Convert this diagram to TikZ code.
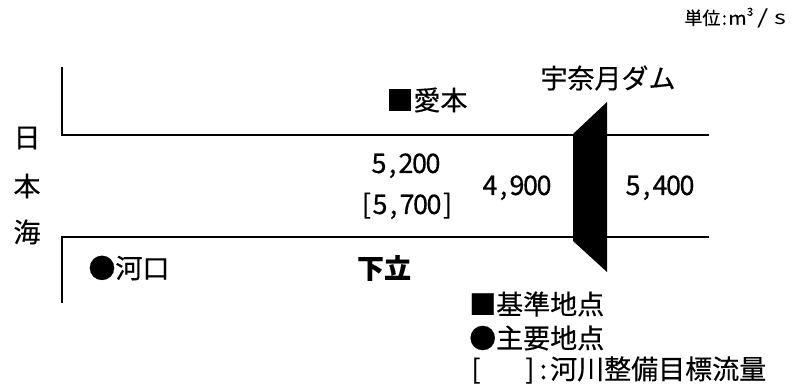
\documentclass[tikz,border=0pt]{standalone}
\usepackage{fontspec}
\setmainfont{Noto Sans CJK JP}[FakeBold=0.4]
\newfontfamily\thinfont{Noto Sans CJK JP}
\newcommand\hw[1]{\makebox[0.5em]{#1}}
\newcommand\bx[2]{\makebox[#1em]{#2}}
\begin{document}
\begin{tikzpicture}[x=1pt,y=-1pt,
  river/.style={line width=1.5pt},
  lbl/.style={inner sep=0pt,font=\fontsize{27}{30}\selectfont},
  num/.style={inner sep=0pt,anchor=base,font=\fontsize{27}{30}\selectfont},
  unit/.style={inner sep=0pt,font=\fontsize{18}{20}\selectfont}]
\useasboundingbox (0,0) rectangle (792,387);
% river banks
\coordinate (tl) at (62,67);
\coordinate (tc) at (62,135);
\coordinate (tr) at (709,135);
\coordinate (bl) at (62,303);
\coordinate (bc) at (62,237);
\coordinate (br) at (709,237);
\draw[river] (tl) -- (tc) -- (tr);
\draw[river] (bl) -- (bc) -- (br);
% dam
\coordinate (d1) at (573,134);
\coordinate (d2) at (607,102);
\coordinate (d3) at (607,272);
\coordinate (d4) at (573,241);
\fill[black] (d1) -- (d2) -- (d3) -- (d4) -- cycle;
% labels
\node[unit,anchor=east] (unit) at (789,18) {単位\bx{0.45}{:}\bx{1.0}{\scalebox{1.1}[1]{m}}\bx{0.4}{\raisebox{0.5em}{\fontsize{11}{12}\selectfont 3}}\bx{1.0}{\thinfont\scalebox{1.6}[1.1]{/}}\bx{0.95}{\thinfont\scalebox{1.4}[1.05]{s}}};
\node[lbl] (dam) at (608,78) {宇奈月ダム};
\node[lbl] (aimoto) at (427,100) {■愛本};
\node[lbl] (j1) at (27,138) {日};
\node[lbl] (j2) at (27,186) {本};
\node[lbl] (j3) at (27,232) {海};
\node[num] (q1) at (406,173) {\hw{5}\hw{,}\hw{2}\hw{0}\hw{0}};
\node[num] (q2) at (407,214) {\hw{[}\hw{5}\hw{,}\hw{7}\hw{0}\hw{0}\hw{]}};
\node[num] (q3) at (517,195) {\hw{4}\hw{,}\hw{9}\hw{0}\hw{0}};
\node[num] (q4) at (660,195) {\hw{5}\hw{,}\hw{4}\hw{0}\hw{0}};
\node[lbl,font=\fontsize{27}{30}\selectfont\bfseries] (shimo) at (384,268) {下立};
\node[lbl] (kako) at (129,268) {●河口};
\node[lbl,anchor=west] (leg1) at (469,304) {■基準地点};
\node[lbl,anchor=west] (leg2) at (469,338) {●主要地点};
\node[lbl,anchor=west] (leg3) at (469,370) {\hw{[}\hspace{1.5em}\hw{]}\hw{:}河川整備目標流量};
\end{tikzpicture}
\end{document}
